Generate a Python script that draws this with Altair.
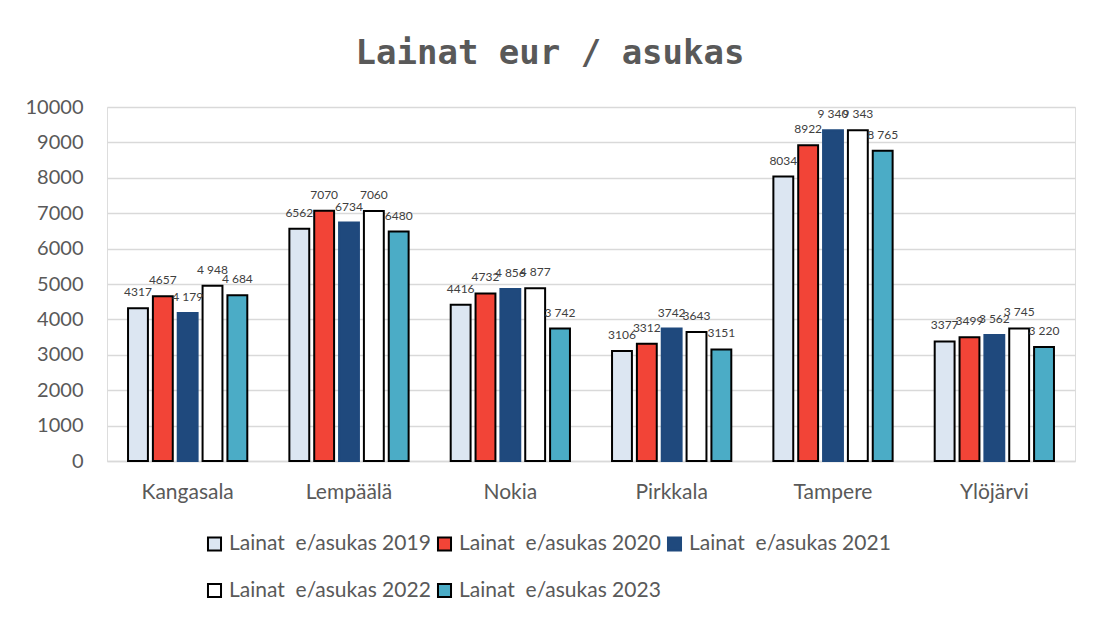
import altair as alt
import pandas as pd

kunnat = ["Kangasala", "Lempäälä", "Nokia", "Pirkkala", "Tampere", "Ylöjärvi"]
sarjat = ["Lainat\u00a0 e/asukas 2019", "Lainat\u00a0 e/asukas 2020", "Lainat\u00a0 e/asukas 2021",
          "Lainat\u00a0 e/asukas 2022", "Lainat\u00a0 e/asukas 2023"]
v2019 = [4317, 6562, 4416, 3106, 8034, 3377]
v2020 = [4657, 7070, 4732, 3312, 8922, 3499]
v2021 = [4179, 6734, 4856, 3742, 9340, 3562]
v2022 = [4948, 7060, 4877, 3643, 9343, 3745]
v2023 = [4684, 6480, 3742, 3151, 8765, 3220]
l2019 = ["4317", "6562", "4416", "3106", "8034", "3377"]
l2020 = ["4657", "7070", "4732", "3312", "8922", "3499"]
l2021 = ["4 179", "6734", "4 856", "3742", "9 340", "3 562"]
l2022 = ["4 948", "7060", "4 877", "3643", "9 343", "3 745"]
l2023 = ["4 684", "6480", "3 742", "3151", "8 765", "3 220"]

fills = ["#dce6f2", "#f24437", "#1f497d", "#ffffff", "#4bacc6"]
strokes = ["#000000", "#000000", "#1f497d", "#000000", "#000000"]

rows = []
for s, vals, labs in zip(sarjat, [v2019, v2020, v2021, v2022, v2023],
                         [l2019, l2020, l2021, l2022, l2023]):
    for k, v, l in zip(kunnat, vals, labs):
        rows.append({"kunta": k, "sarja": s, "arvo": v, "teksti": l})
df = pd.DataFrame(rows)

x = alt.X("kunta:N", sort=kunnat, title=None,
          scale=alt.Scale(paddingInner=0.23, paddingOuter=0.115),
          axis=alt.Axis(labelAngle=0, labelFontSize=21, labelColor="#595959",
                        labelFont="Lato", labelPadding=20, ticks=False,
                        domainColor="#d9d9d9", domainWidth=1.5, grid=False))
xo = alt.XOffset("sarja:N", sort=sarjat,
                 scale=alt.Scale(paddingInner=0.2, paddingOuter=0.1))
y = alt.Y("arvo:Q", title=None,
          scale=alt.Scale(domain=[0, 10000], nice=False),
          axis=alt.Axis(values=list(range(0, 10001, 1000)), format="d",
                        labelFontSize=20, labelColor="#595959", labelFont="Lato",
                        labelPadding=24, ticks=False, domain=False,
                        gridColor="#d9d9d9", gridWidth=1.3))

color = alt.Color("sarja:N", sort=sarjat, title=None,
                  scale=alt.Scale(domain=sarjat, range=fills),
                  legend=alt.Legend(orient="none", legendX=97, legendY=426,
                                    direction="horizontal", columns=3,
                                    labelFontSize=21, labelFont="Lato",
                                    labelColor="#595959", symbolType="square",
                                    symbolSize=170, symbolStrokeWidth=2,
                                    labelOffset=4,
                                    columnPadding=2, rowPadding=24,
                                    labelLimit=400, symbolOpacity=1))
stroke = alt.Stroke("sarja:N", sort=sarjat, scale=alt.Scale(domain=sarjat, range=strokes),
                    legend=None)

base = alt.Chart(df)
bars = base.mark_bar(strokeWidth=2).encode(x=x, xOffset=xo, y=y, fill=color, stroke=stroke)
text = base.mark_text(baseline="bottom", dy=-9, fontSize=12, color="#404040",
                      font="Lato").encode(x=x, xOffset=xo, y=y, text="teksti:N")

chart = (bars + text).properties(
    width=968, height=354,
    title=alt.Title("Lainat eur / asukas", font="DejaVu Sans Mono", fontSize=34,
                    fontWeight="bold", color="#595959", anchor="middle",
                    frame="bounds", offset=26),
    autosize=alt.AutoSizeParams(type="none"),
    padding={"left": 99, "top": 99, "right": 11, "bottom": 149},
).configure_view(stroke=None).configure(background="white")

chart.save("out.html", embed_options={"renderer": "svg", "actions": False})
